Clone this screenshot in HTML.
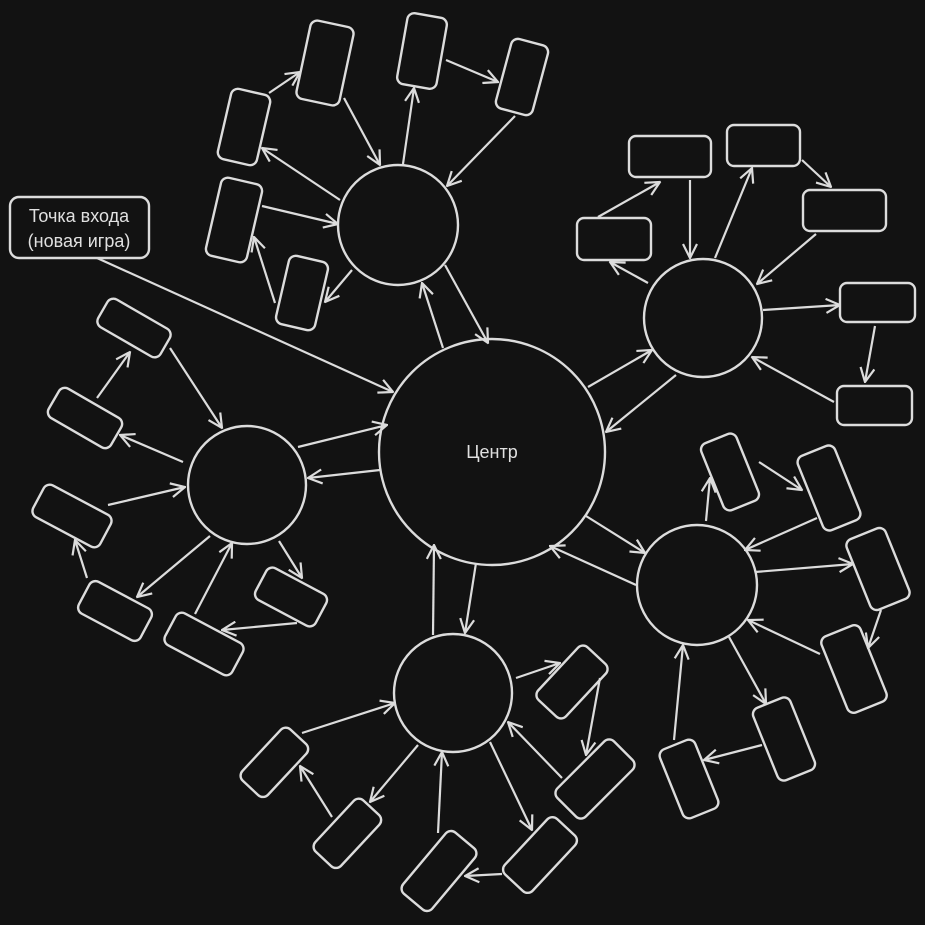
<!DOCTYPE html>
<html><head><meta charset="utf-8"><style>
html,body{margin:0;padding:0;background:#121212;}
svg{display:block}
text{font-family:"Liberation Sans","DejaVu Sans",sans-serif;fill:#e0e0e0}
</style></head><body>
<svg width="925" height="925" viewBox="0 0 925 925" xmlns="http://www.w3.org/2000/svg">
<defs>
<marker id="a" viewBox="0 0 16 16" refX="15" refY="8" markerWidth="16" markerHeight="16" markerUnits="userSpaceOnUse" orient="auto">
<path d="M1,1 L15,8 L1,15" fill="none" stroke="#dcdcdc" stroke-width="2.2"/>
</marker>
</defs>
<rect width="925" height="925" fill="#121212"/>
<g fill="#121212" stroke="#dcdcdc" stroke-width="2.4">
<circle cx="492" cy="452" r="113"/>
<circle cx="398" cy="225" r="60"/>
<circle cx="703" cy="318" r="59"/>
<circle cx="247" cy="485" r="59"/>
<circle cx="453" cy="693" r="59"/>
<circle cx="697" cy="585" r="60"/>
<rect x="-22" y="-40" width="44" height="80" rx="7" transform="translate(325,63) rotate(12)"/>
<rect x="-20" y="-36" width="40" height="72" rx="7" transform="translate(422,51) rotate(10)"/>
<rect x="-19" y="-36" width="38" height="72" rx="7" transform="translate(522,77) rotate(15)"/>
<rect x="-20" y="-36" width="40" height="72" rx="7" transform="translate(244,127) rotate(13)"/>
<rect x="-21" y="-40" width="42" height="80" rx="7" transform="translate(234,220) rotate(13)"/>
<rect x="-20" y="-35" width="40" height="70" rx="7" transform="translate(302,293) rotate(13)"/>
<rect x="629" y="136" width="82" height="41" rx="7"/>
<rect x="727" y="125" width="73" height="41" rx="7"/>
<rect x="803" y="190" width="83" height="41" rx="7"/>
<rect x="577" y="218" width="74" height="42" rx="7"/>
<rect x="840" y="283" width="75" height="39" rx="7"/>
<rect x="837" y="386" width="75" height="39" rx="7"/>
<rect x="-36" y="-16" width="72" height="32" rx="7" transform="translate(134,328) rotate(30)"/>
<rect x="-36" y="-17" width="72" height="34" rx="7" transform="translate(85,418) rotate(30)"/>
<rect x="-38" y="-18" width="76" height="36" rx="7" transform="translate(72,516) rotate(28)"/>
<rect x="-35" y="-18" width="70" height="36" rx="7" transform="translate(115,611) rotate(28)"/>
<rect x="-38" y="-18" width="76" height="36" rx="7" transform="translate(204,644) rotate(28)"/>
<rect x="-34" y="-18" width="68" height="36" rx="7" transform="translate(291,597) rotate(28)"/>
<rect x="-35" y="-17" width="70" height="35" rx="7" transform="translate(274,762) rotate(-47)"/>
<rect x="-35" y="-17" width="70" height="35" rx="7" transform="translate(347,833) rotate(-47)"/>
<rect x="-40" y="-19" width="80" height="38" rx="7" transform="translate(439,871) rotate(-50)"/>
<rect x="-38" y="-19" width="76" height="38" rx="7" transform="translate(540,855) rotate(-47)"/>
<rect x="-36" y="-19" width="72" height="38" rx="7" transform="translate(572,682) rotate(-47)"/>
<rect x="-40" y="-20" width="80" height="40" rx="7" transform="translate(595,779) rotate(-45)"/>
<rect x="-19" y="-36" width="38" height="72" rx="7" transform="translate(730,472) rotate(-22)"/>
<rect x="-20" y="-40" width="40" height="80" rx="7" transform="translate(829,488) rotate(-22)"/>
<rect x="-21" y="-38" width="42" height="76" rx="7" transform="translate(878,569) rotate(-22)"/>
<rect x="-21" y="-41" width="42" height="82" rx="7" transform="translate(854,669) rotate(-22)"/>
<rect x="-20" y="-39" width="40" height="78" rx="7" transform="translate(784,739) rotate(-22)"/>
<rect x="-19" y="-37" width="38" height="74" rx="7" transform="translate(689,779) rotate(-22)"/>
<rect x="10" y="197" width="139" height="61" rx="9"/>
</g>
<text x="492" y="458" font-size="18" text-anchor="middle">Центр</text>
<text x="79" y="222" font-size="18" text-anchor="middle">Точка входа</text>
<text x="79" y="247" font-size="18" text-anchor="middle">(новая игра)</text>
<g stroke="#dcdcdc" stroke-width="2.2" fill="none" marker-end="url(#a)">
<path d="M97,258 L393,392"/>
<path d="M445,265 L488,343"/>
<path d="M443,348 L422,283"/>
<path d="M298,447 L387,425"/>
<path d="M380,470 L308,478"/>
<path d="M588,387 L652,350"/>
<path d="M676,375 L606,432"/>
<path d="M586,516 L645,553"/>
<path d="M636,585 L550,546"/>
<path d="M476,563 L465,633"/>
<path d="M433,635 L434,545"/>
<path d="M269,93 L300,72"/>
<path d="M344,98 L380,165"/>
<path d="M403,164 L414,88"/>
<path d="M446,60 L498,82"/>
<path d="M515,116 L447,186"/>
<path d="M340,200 L262,148"/>
<path d="M262,206 L338,224"/>
<path d="M275,303 L254,237"/>
<path d="M352,270 L325,302"/>
<path d="M598,217 L660,182"/>
<path d="M690,180 L690,258"/>
<path d="M715,258 L752,168"/>
<path d="M802,160 L831,187"/>
<path d="M816,234 L757,284"/>
<path d="M648,283 L610,262"/>
<path d="M763,310 L840,305"/>
<path d="M875,326 L865,382"/>
<path d="M834,402 L752,357"/>
<path d="M170,348 L222,428"/>
<path d="M97,398 L130,352"/>
<path d="M183,462 L120,435"/>
<path d="M108,505 L185,487"/>
<path d="M87,578 L75,540"/>
<path d="M210,536 L137,597"/>
<path d="M195,614 L232,543"/>
<path d="M297,623 L222,630"/>
<path d="M279,541 L302,578"/>
<path d="M302,733 L395,703"/>
<path d="M332,817 L300,766"/>
<path d="M418,745 L370,802"/>
<path d="M438,833 L442,752"/>
<path d="M502,874 L465,876"/>
<path d="M490,742 L532,830"/>
<path d="M562,778 L508,722"/>
<path d="M600,678 L586,755"/>
<path d="M516,678 L560,663"/>
<path d="M706,521 L710,478"/>
<path d="M759,462 L802,490"/>
<path d="M817,518 L745,550"/>
<path d="M755,572 L853,564"/>
<path d="M881,610 L868,648"/>
<path d="M820,654 L748,620"/>
<path d="M729,637 L766,704"/>
<path d="M762,745 L704,760"/>
<path d="M674,740 L683,645"/>
</g>
</svg>
</body></html>
